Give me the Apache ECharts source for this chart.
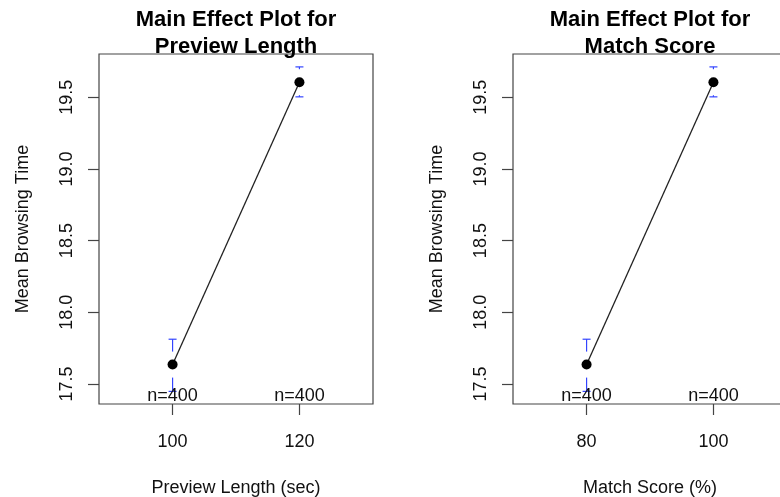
<!DOCTYPE html>
<html>
<head>
<meta charset="utf-8">
<script src="https://cdn.jsdelivr.net/npm/echarts@6/dist/echarts.min.js"></script>
<style>
  html, body { margin: 0; padding: 0; background: #fff; }
  #chart { width: 780px; height: 497px; }
</style>
</head>
<body>
<div id="chart"></div>
<script>
// factor levels shown on the two x axes
var previewLevels = ['100', '120'];
var matchLevels = ['80', '100'];
// group means with their confidence limits
var previewMeans = [17.635, 19.605];
var previewUpper = [17.812, 19.712];
var previewLower = [17.448, 19.503];
var matchMeans = [17.635, 19.605];
var matchUpper = [17.812, 19.712];
var matchLower = [17.448, 19.503];
var groupN = [400, 400];
var yTicks = [17.5, 18.0, 18.5, 19.0, 19.5];

var FONT = '"Liberation Sans", Arial, Helvetica, sans-serif';
var Y_MIN = 17.36, Y_MAX = 19.802;

// R style plotmeans bars: caps plus a stub that stops short of the point
function errorBar(params, api) {
    var x = api.value(0);
    var lo = api.coord([x, api.value(1)]);
    var hi = api.coord([x, api.value(2)]);
    var mid = api.coord([x, api.value(3)]);
    var gap = 13, half = 4;
    var style = { stroke: '#3344ff', lineWidth: 1.2 };
    var kids = [
        { type: 'line', shape: { x1: hi[0] - half, y1: hi[1], x2: hi[0] + half, y2: hi[1] }, style: style },
        { type: 'line', shape: { x1: lo[0] - half, y1: lo[1], x2: lo[0] + half, y2: lo[1] }, style: style }
    ];
    if (mid[1] - hi[1] > gap) {
        kids.push({ type: 'line', shape: { x1: hi[0], y1: hi[1], x2: hi[0], y2: mid[1] - gap }, style: style });
    }
    if (lo[1] - mid[1] > gap) {
        kids.push({ type: 'line', shape: { x1: lo[0], y1: mid[1] + gap, x2: lo[0], y2: lo[1] }, style: style });
    }
    return { type: 'group', children: kids };
}

function xAxisFor(idx, levels, name) {
    return {
        type: 'value', gridIndex: idx, min: 0.42, max: 2.58,
        name: name, nameLocation: 'middle', nameGap: 75,
        nameTextStyle: { fontFamily: FONT, fontSize: 18, color: '#111' },
        axisLine: { show: false },
        splitLine: { show: false },
        axisTick: { show: true, length: 11, customValues: [1, 2], lineStyle: { color: '#444', width: 1.2 } },
        axisLabel: {
            customValues: [1, 2], margin: 29,
            fontFamily: FONT, fontSize: 18, color: '#111',
            formatter: function (v) { return levels[Math.round(v) - 1]; }
        }
    };
}

function yAxisFor(idx) {
    return {
        type: 'value', gridIndex: idx, min: Y_MIN, max: Y_MAX,
        name: 'Mean Browsing Time', nameLocation: 'middle', nameGap: 67, nameRotate: 90,
        nameTextStyle: { fontFamily: FONT, fontSize: 18, color: '#111' },
        axisLine: { show: false },
        splitLine: { show: false },
        axisTick: { show: true, length: 11, customValues: yTicks, lineStyle: { color: '#444', width: 1.2 } },
        axisLabel: {
            customValues: yTicks, rotate: 90, margin: 23,
            fontFamily: FONT, fontSize: 18, color: '#111',
            formatter: function (v) { return v.toFixed(1); }
        }
    };
}

function panelSeries(idx, means, lower, upper) {
    var pts = [], bars = [], counts = [];
    for (var i = 0; i < means.length; i++) {
        pts.push([i + 1, means[i]]);
        bars.push([i + 1, lower[i], upper[i], means[i]]);
        counts.push([i + 1, Y_MIN]);
    }
    return [
        {
            type: 'line', xAxisIndex: idx, yAxisIndex: idx, data: pts,
            symbol: 'circle', symbolSize: 10,
            itemStyle: { color: '#000' },
            lineStyle: { color: '#222', width: 1.3 },
            z: 3
        },
        {
            type: 'custom', xAxisIndex: idx, yAxisIndex: idx, data: bars,
            renderItem: errorBar, z: 2
        },
        {
            type: 'scatter', xAxisIndex: idx, yAxisIndex: idx, data: counts,
            symbolSize: 0, silent: true,
            itemStyle: { opacity: 1 },
            label: {
                show: true, position: 'top', distance: -1,
                fontFamily: FONT, fontSize: 18, color: '#111',
                formatter: function (p) { return 'n=' + groupN[p.dataIndex]; }
            },
            z: 4
        }
    ];
}

var myChart = echarts.init(document.getElementById('chart'), null, { renderer: 'canvas' });
var option = {
    animation: false,
    backgroundColor: '#fff',
    title: [
        {
            text: 'Main Effect Plot for\nPreview Length', left: 236, top: 6, textAlign: 'center', padding: 0,
            textStyle: { fontFamily: FONT, fontSize: 22, fontWeight: 'bold', lineHeight: 27, color: '#000' }
        },
        {
            text: 'Main Effect Plot for\nMatch Score', left: 650, top: 6, textAlign: 'center', padding: 0,
            textStyle: { fontFamily: FONT, fontSize: 22, fontWeight: 'bold', lineHeight: 27, color: '#000' }
        }
    ],
    grid: [
        { left: 99, top: 54, width: 274, height: 350, show: true, borderColor: '#444', borderWidth: 1.2,
          backgroundColor: 'transparent', outerBoundsMode: 'none' },
        // the right panel runs past the edge of the picture, as in the original
        { left: 513, top: 54, width: 274, height: 350, show: true, borderColor: '#444', borderWidth: 1.2,
          backgroundColor: 'transparent', outerBoundsMode: 'none' }
    ],
    xAxis: [
        xAxisFor(0, previewLevels, 'Preview Length (sec)'),
        xAxisFor(1, matchLevels, 'Match Score (%)')
    ],
    yAxis: [yAxisFor(0), yAxisFor(1)],
    series: panelSeries(0, previewMeans, previewLower, previewUpper)
        .concat(panelSeries(1, matchMeans, matchLower, matchUpper))
};
myChart.setOption(option);
</script>
</body>
</html>
